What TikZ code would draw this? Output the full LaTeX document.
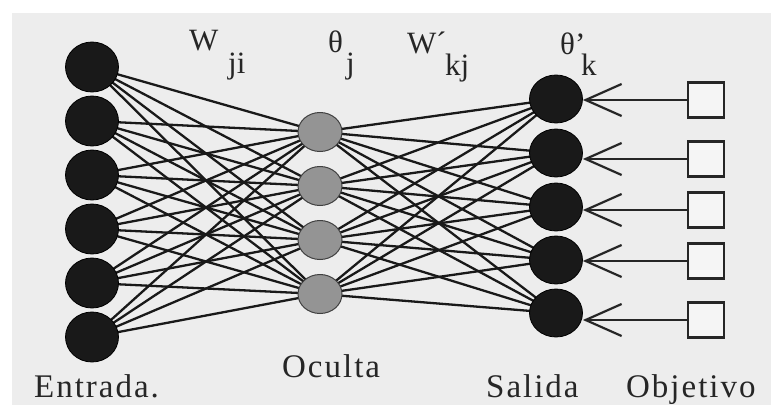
\documentclass[tikz,border=0pt]{standalone}
\usepackage{fontspec}
\setmainfont{Liberation Serif}
\newfontfamily\spaced[LetterSpace=6]{Liberation Serif}
\usetikzlibrary{arrows.meta,shapes.geometric}
\begin{document}
\begin{tikzpicture}[x=1pt,y=-1pt,
  inp/.style={ellipse,minimum width=53pt,minimum height=50pt,inner sep=0pt,fill=black!90,draw=black,line width=0.8pt},
  hid/.style={ellipse,minimum width=44pt,minimum height=39pt,inner sep=0pt,fill=black!42,draw=black!75,line width=1pt},
  outp/.style={ellipse,minimum width=53pt,minimum height=48pt,inner sep=0pt,fill=black!90,draw=black,line width=0.8pt},
  tgt/.style={rectangle,minimum width=36pt,minimum height=35pt,inner sep=0pt,draw=black!85,line width=2.4pt,fill=black!4},
  conn/.style={draw=black!90,line width=2.3pt},
  feed/.style={draw=black!85,line width=2.2pt,-{Straight Barb[length=36pt,width=32pt,line width=2.2pt]}},
  lab/.style={anchor=base west,inner sep=0pt,font=\fontsize{33}{33}\selectfont\spaced,text=black!85},
  sym/.style={anchor=base west,inner sep=0pt,font=\fontsize{31}{31}\selectfont,text=black!85}]
\useasboundingbox (0,0) rectangle (771,405);
\fill[white] (0,0) rectangle (771,405);
\fill[black!7] (12,13) rectangle (771,405);
% centres
\foreach \i/\y in {1/67,2/121,3/175,4/229,5/283,6/337} \coordinate (ic\i) at (92,\y);
\foreach \j/\y in {1/132,2/186,3/240,4/294} \coordinate (hc\j) at (320,\y);
\foreach \k/\y in {1/99,2/153,3/207,4/260,5/313} \coordinate (oc\k) at (556,\y);
% connections
\foreach \i in {1,...,6} \foreach \j in {1,...,4} \draw[conn] (ic\i) -- (hc\j);
\foreach \j in {1,...,4} \foreach \k in {1,...,5} \draw[conn] (hc\j) -- (oc\k);
% nodes
\foreach \i in {1,...,6} \node[inp] (i\i) at (ic\i) {};
\foreach \j in {1,...,4} \node[hid] (h\j) at (hc\j) {};
\foreach \k in {1,...,5} \node[outp] (o\k) at (oc\k) {};
% targets
\foreach \k/\y in {1/100,2/159,3/210,4/261,5/320} {
  \node[tgt] (t\k) at (706,\y) {};
  \draw[feed] (t\k.west) -- (t\k.west -| o\k.east);
}
% labels
\node[lab] (le) at (34,397) {Entrada.};
\node[lab] (lo) at (282,377) {Oculta};
\node[lab] (ls) at (486,397) {Salida};
\node[lab] (lob) at (626,397) {Objetivo};
\node[sym] (w1) at (189,50) {W};
\node[sym] (w1s) at (228,73) {ji};
\node[sym] (th1) at (328,52) {θ};
\node[sym] (th1s) at (346,73) {j};
\node[sym] (w2) at (407,53) {W};
\node[sym] (w2p) at (436,53) {´};
\node[sym] (w2s) at (445,75) {kj};
\node[sym] (th2) at (560,54) {θ'};
\node[sym] (th2s) at (581,75) {k};
\end{tikzpicture}
\end{document}
